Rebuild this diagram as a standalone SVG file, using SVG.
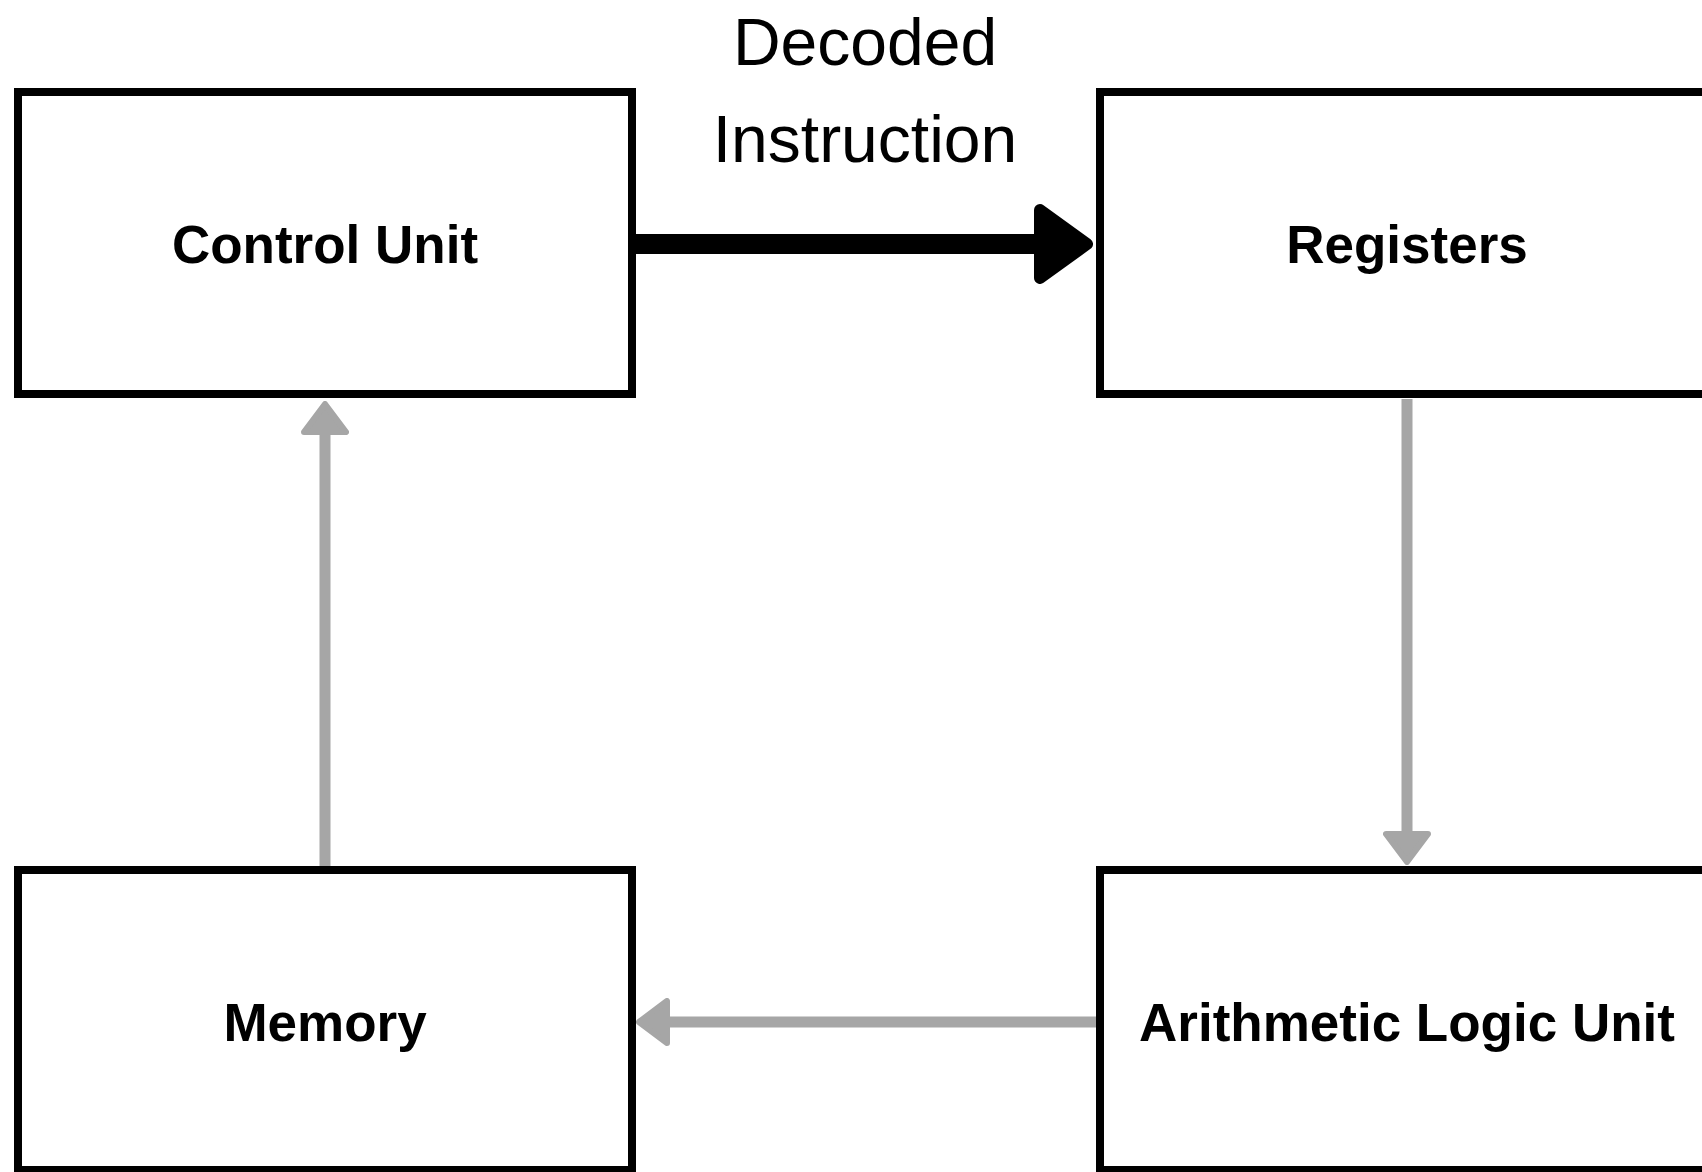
<svg xmlns="http://www.w3.org/2000/svg" width="1702" height="1172" viewBox="0 0 1702 1172">
  <style>
    .box { fill: #ffffff; stroke: #000000; stroke-width: 8; }
    .title { font-family: "Liberation Sans", Arial, sans-serif; font-weight: 700; font-size: 53px; fill: #000000; text-anchor: middle; }
    .label { font-family: "Liberation Sans", Arial, sans-serif; font-weight: 400; font-size: 66px; fill: #000000; text-anchor: middle; }
    .flow { fill: none; stroke: #a6a6a6; stroke-width: 11; }
    .main { fill: none; stroke: #000000; stroke-width: 20; }
  </style>
  <defs>
    <!-- rounded triangle heads; the line ends at the head's back edge -->
    <marker id="headGray" markerUnits="userSpaceOnUse" viewBox="0 0 34 48" markerWidth="34" markerHeight="48" refX="1" refY="24" orient="auto">
      <path d="M3,3 L31,24 L3,45 Z" fill="#a6a6a6" stroke="#a6a6a6" stroke-width="6" stroke-linejoin="round"/>
    </marker>
    <marker id="headBlack" markerUnits="userSpaceOnUse" viewBox="0 0 59 80" markerWidth="59" markerHeight="80" refX="2" refY="40" orient="auto">
      <path d="M6,6 L53,40 L6,74 Z" fill="#000000" stroke="#000000" stroke-width="12" stroke-linejoin="round"/>
    </marker>
  </defs>

  <rect width="1702" height="1172" fill="#ffffff"/>

  <g id="connectors">
    <!-- Control Unit -> Registers -->
    <line class="main" x1="632" y1="244" x2="1036" y2="244" marker-end="url(#headBlack)"/>
    <!-- Registers -> ALU -->
    <line class="flow" x1="1407" y1="399" x2="1407" y2="832" marker-end="url(#headGray)"/>
    <!-- ALU -> Memory -->
    <line class="flow" x1="1097" y1="1022" x2="669" y2="1022" marker-end="url(#headGray)"/>
    <!-- Memory -> Control Unit -->
    <line class="flow" x1="325" y1="867" x2="325" y2="434" marker-end="url(#headGray)"/>
  </g>

  <g id="edge-label">
    <text class="label" x="865" y="65">Decoded</text>
    <text class="label" x="865" y="162">Instruction</text>
  </g>

  <g id="control-unit">
    <rect class="box" x="18" y="92" width="614" height="302"/>
    <text class="title" x="325" y="263">Control Unit</text>
  </g>

  <g id="registers">
    <rect class="box" x="1100" y="92" width="614" height="302"/>
    <text class="title" x="1407" y="263">Registers</text>
  </g>

  <g id="memory">
    <rect class="box" x="18" y="870" width="614" height="300"/>
    <text class="title" x="325" y="1041">Memory</text>
  </g>

  <g id="alu">
    <rect class="box" x="1100" y="870" width="614" height="300"/>
    <text class="title" x="1407" y="1041">Arithmetic Logic Unit</text>
  </g>
</svg>
